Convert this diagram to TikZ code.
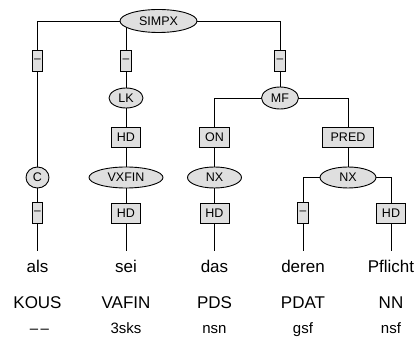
\documentclass[tikz,border=0pt]{standalone}
\usepackage{fontspec}
\setmainfont{Liberation Sans}
\usetikzlibrary{shapes.geometric,backgrounds}

\begin{document}
\begin{tikzpicture}[x=1pt, y=-1pt,
        catnode/.style={ellipse, draw=black, fill=gray!25, line width=0.9pt, inner sep=0pt, minimum height=21pt, font=\fontsize{12.5}{14}\selectfont},
        funcnode/.style={rectangle, draw=black, fill=gray!25, line width=0.9pt, inner xsep=5.5pt, inner ysep=0pt, minimum height=20pt, font=\fontsize{12.5}{14}\selectfont},
        dashnode/.style={rectangle, draw=black, fill=gray!25, line width=0.9pt, inner sep=0pt, minimum width=10.5pt, minimum height=21pt, font=\fontsize{12}{14}\selectfont},
        wordnode/.style={anchor=base, inner sep=0pt, text height=22pt, font=\fontsize{17}{20}\selectfont},
        posnode/.style={anchor=base, inner sep=0pt, font=\fontsize{17}{20}\selectfont},
        morphnode/.style={anchor=base, inner sep=0pt, font=\fontsize{15}{18}\selectfont},
        ]
                \useasboundingbox (0,0) rectangle (418,347);

                % categories
                \node[catnode, minimum width=77pt, minimum height=23pt] at(158.5,21) (simpx) {SIMPX};
                \node[catnode, minimum width=34pt, minimum height=20pt] at(126,98) (lk) {LK};
                \node[catnode, minimum width=37pt, minimum height=22pt] at(280,98) (mf) {MF};
                \node[catnode, minimum width=23pt] at(37.5,177.5) (c) {C};
                \node[catnode, minimum width=74pt] at(126,177.5) (vxfin) {VXFIN};
                \node[catnode, minimum width=54pt] at(214.5,177.5) (nxa) {NX};
                \node[catnode, minimum width=56pt] at(348,177.5) (nxb) {NX};

                % edge labels
                \node[dashnode] at(37.5,60.5) (e1) {–};
                \node[dashnode] at(126,60.5) (e2) {–};
                \node[dashnode] at(280,60.5) (e3) {–};
                \node[funcnode] at(126,137.5) (hda) {HD};
                \node[funcnode] at(214.5,137.5) (on) {ON};
                \node[funcnode, minimum width=51pt] at(348,137.5) (pred) {PRED};
                \node[dashnode] at(37.5,213) (e4) {–};
                \node[funcnode] at(126,213.5) (hdb) {HD};
                \node[funcnode] at(214.5,213.5) (hdc) {HD};
                \node[dashnode] at(303,213) (e5) {–};
                \node[funcnode] at(391,213.5) (hdd) {HD};

                % words
                \node[wordnode] at(37.5,273) (w1) {als};
                \node[wordnode] at(126,273) (w2) {sei};
                \node[wordnode] at(214.5,273) (w3) {das};
                \node[wordnode] at(303,273) (w4) {deren};
                \node[wordnode] at(391,273) (w5) {Pflicht};

                \node[posnode] at(37.5,309) (p1) {KOUS};
                \node[posnode] at(126,309) (p2) {VAFIN};
                \node[posnode] at(214.5,309) (p3) {PDS};
                \node[posnode] at(303,309) (p4) {PDAT};
                \node[posnode] at(391,309) (p5) {NN};

                \node[morphnode] at(39.5,334) (m1) {–\kern2.5pt–};
                \node[morphnode] at(126,334) (m2) {3sks};
                \node[morphnode] at(214.5,334) (m3) {nsn};
                \node[morphnode] at(303,334) (m4) {gsf};
                \node[morphnode] at(391,334) (m5) {nsf};

                \begin{scope}[on background layer, line width=0.9pt]
                \draw (simpx.center) -| (e1) ;
                \draw (simpx.center) -| (e2) ;
                \draw (simpx.center) -| (e3) ;
                \draw (e1) -- (c) ;
                \draw (e2) -- (lk) ;
                \draw (e3) -- (mf) ;
                \draw (lk) -- (hda) ;
                \draw (hda) -- (vxfin) ;
                \draw (mf.center) -| (on) ;
                \draw (mf.center) -| (pred) ;
                \draw (on) -- (nxa) ;
                \draw (pred) -- (nxb) ;
                \draw (c) -- (e4) ;
                \draw (vxfin) -- (hdb) ;
                \draw (nxa) -- (hdc) ;
                \draw (nxb.center) -| (e5) ;
                \draw (nxb.center) -| (hdd) ;
                \draw (e4) -- (w1.north) ;
                \draw (hdb) -- (w2.north) ;
                \draw (hdc) -- (w3.north) ;
                \draw (e5) -- (w4.north) ;
                \draw (hdd) -- (w5.north) ;
                \end{scope}

            \end{tikzpicture}
\end{document}
